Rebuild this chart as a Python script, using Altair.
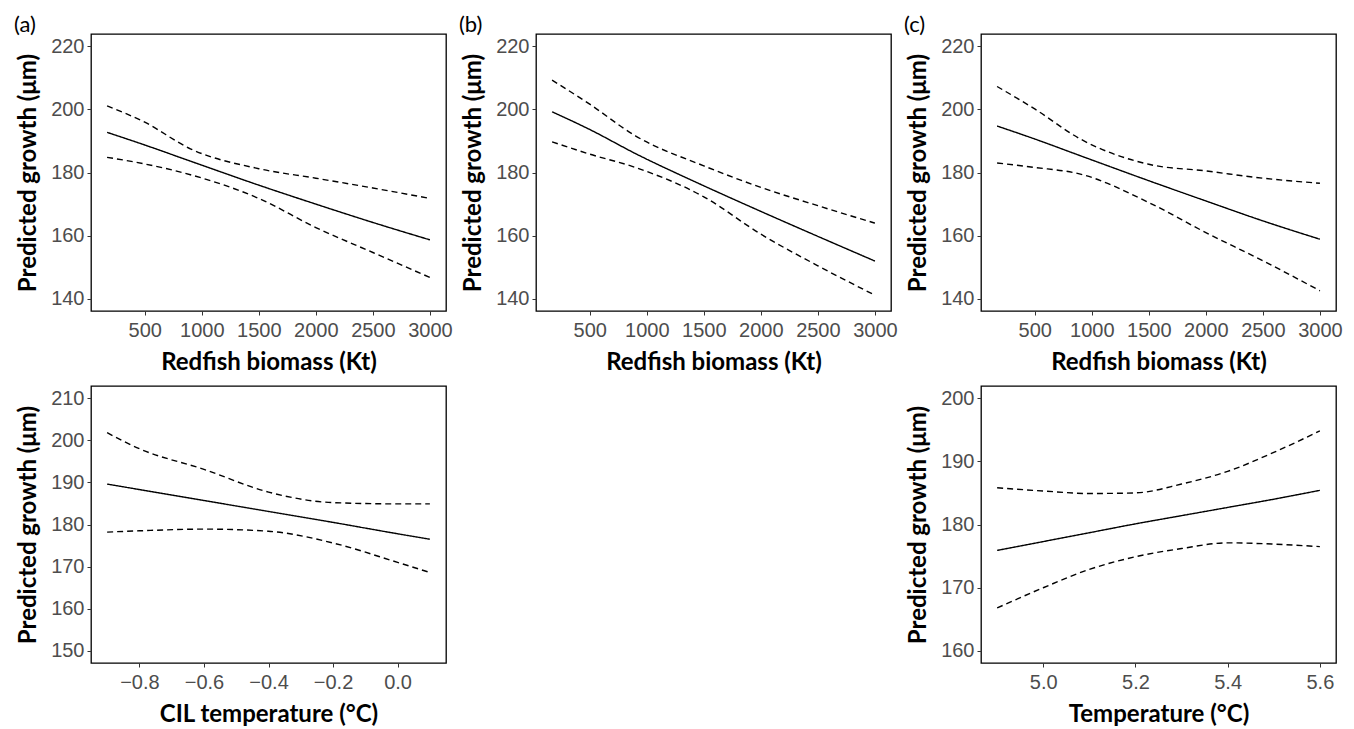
import altair as alt
import pandas as pd

# ---------------- data ----------------
bio_x = [170, 500, 900, 1500, 2000, 2500, 3000]

a_fit = [192.7, 188.7, 183.6, 176.0, 170.0, 164.2, 158.7]
a_hi = [201.1, 195.9, 187.5, 181.2, 178.2, 175.1, 171.8]
a_lo = [184.8, 182.7, 179.3, 171.8, 162.6, 154.7, 146.8]

b_fit = [199.2, 193.6, 186.0, 175.8, 167.7, 159.8, 152.0]
b_hi = [209.2, 201.6, 191.6, 182.1, 175.3, 169.5, 164.0]
b_lo = [189.7, 185.8, 181.6, 172.3, 160.5, 150.5, 141.2]

c_fit = [194.7, 190.6, 185.3, 177.4, 171.0, 164.7, 158.9]
c_hi = [207.2, 200.1, 190.6, 182.6, 180.5, 178.2, 176.6]
c_lo = [183.0, 181.6, 179.5, 170.5, 161.0, 152.1, 142.6]

cil_x = [-0.9, -0.8, -0.6, -0.4, -0.2, 0.0, 0.1]
d_fit = [189.6, 188.3, 185.7, 183.1, 180.5, 177.8, 176.5]
d_hi = [201.8, 198.0, 193.1, 187.7, 185.2, 184.9, 184.9]
d_lo = [178.2, 178.5, 178.9, 178.4, 175.6, 171.0, 168.6]

temp_x = [4.9, 5.0, 5.1, 5.2, 5.3, 5.4, 5.5, 5.6]
e_fit = [175.9, 177.3, 178.7, 180.1, 181.4, 182.7, 184.0, 185.4]
e_hi = [185.8, 185.3, 184.9, 185.0, 186.4, 188.4, 191.4, 194.8]
e_lo = [166.8, 170.0, 172.9, 174.9, 176.2, 177.1, 176.9, 176.5]

bio_ticks = [500, 1000, 1500, 2000, 2500, 3000]
top_y_ticks = [140, 160, 180, 200, 220]
cil_ticks = [-0.8, -0.6, -0.4, -0.2, 0.0]
cil_y_ticks = [150, 160, 170, 180, 190, 200, 210]
temp_ticks = [5.0, 5.2, 5.4, 5.6]
temp_y_ticks = [160, 170, 180, 190, 200]

YTITLE = "Predicted growth (μm)"
W, H = 355, 277


def long_df(xs, fit, lo, hi):
    rows = []
    for kind, vals in (("fit", fit), ("lo", lo), ("hi", hi)):
        for x, y in zip(xs, vals):
            rows.append({"x": x, "y": y, "kind": kind})
    return pd.DataFrame(rows)


def panel(xs, fit, lo, hi, xdom, ydom, xticks, yticks, xtitle, label=None, xfmt="d"):
    df = long_df(xs, fit, lo, hi)
    ch = alt.Chart(df).mark_line(color="black", strokeWidth=1.4, interpolate="monotone").encode(
        x=alt.X("x:Q", scale=alt.Scale(domain=xdom, nice=False, zero=False),
                axis=alt.Axis(values=xticks, title=xtitle, format=xfmt)),
        y=alt.Y("y:Q", scale=alt.Scale(domain=ydom, nice=False, zero=False),
                axis=alt.Axis(values=yticks, title=YTITLE, format="d")),
        detail="kind:N",
        strokeDash=alt.StrokeDash("kind:N", scale=alt.Scale(domain=["fit", "lo", "hi"],
                                                           range=[[1, 0], [6, 4], [6, 4]]),
                                  legend=None),
    )
    props = dict(width=W, height=H)
    if label:
        props["title"] = alt.TitleParams(label, anchor="start", frame="group", dx=-77, offset=-3,
                                         font="Lato", fontSize=22, fontWeight="normal",
                                         color="black")
    return ch.properties(**props)


pa = panel(bio_x, a_fit, a_lo, a_hi, [29, 3141], [136.2, 223.8], bio_ticks, top_y_ticks,
           "Redfish biomass (Kt)", "(a)")
pb = panel(bio_x, b_fit, b_lo, b_hi, [29, 3141], [136.2, 223.8], bio_ticks, top_y_ticks,
           "Redfish biomass (Kt)", "(b)")
pc = panel(bio_x, c_fit, c_lo, c_hi, [29, 3141], [136.2, 223.8], bio_ticks, top_y_ticks,
           "Redfish biomass (Kt)", "(c)")
pd_ = panel(cil_x, d_fit, d_lo, d_hi, [-0.95, 0.15], [147.1, 212.9], cil_ticks, cil_y_ticks,
            "CIL temperature (°C)", None, ".1f")
pe = panel(temp_x, e_fit, e_lo, e_hi, [4.865, 5.635], [158.1, 201.9], temp_ticks, temp_y_ticks,
           "Temperature (°C)", None, ".1f")

empty = alt.Chart(pd.DataFrame({"x": [0]})).mark_point(opacity=0).encode(
    x=alt.X("x:Q", axis=None), y=alt.Y("x:Q", axis=None)
).properties(width=W, height=H, view=alt.ViewBackground(stroke=None))

chart = alt.concat(pa, pb, pc, pd_, empty, pe, columns=3,
                   spacing=alt.RowColnumber(row=75, column=90), bounds="flush").configure_view(
    stroke="black", strokeWidth=1.3
).configure_axis(
    domain=False, grid=False,
    labelFont="Liberation Sans", labelFontSize=20, labelColor="#4d4d4d",
    tickColor="#333333", tickSize=4, tickWidth=1,
    titleFont="Lato", titleFontSize=24, titleFontWeight="bold", titleColor="black",
).configure_axisX(labelPadding=5, titlePadding=10).configure_axisY(
    labelPadding=3, titlePadding=10, titleFontSize=24
).properties(padding={"left": 5, "top": 5, "right": 0, "bottom": 0})

chart.save("out.html", embed_options={"renderer": "svg", "actions": False})
